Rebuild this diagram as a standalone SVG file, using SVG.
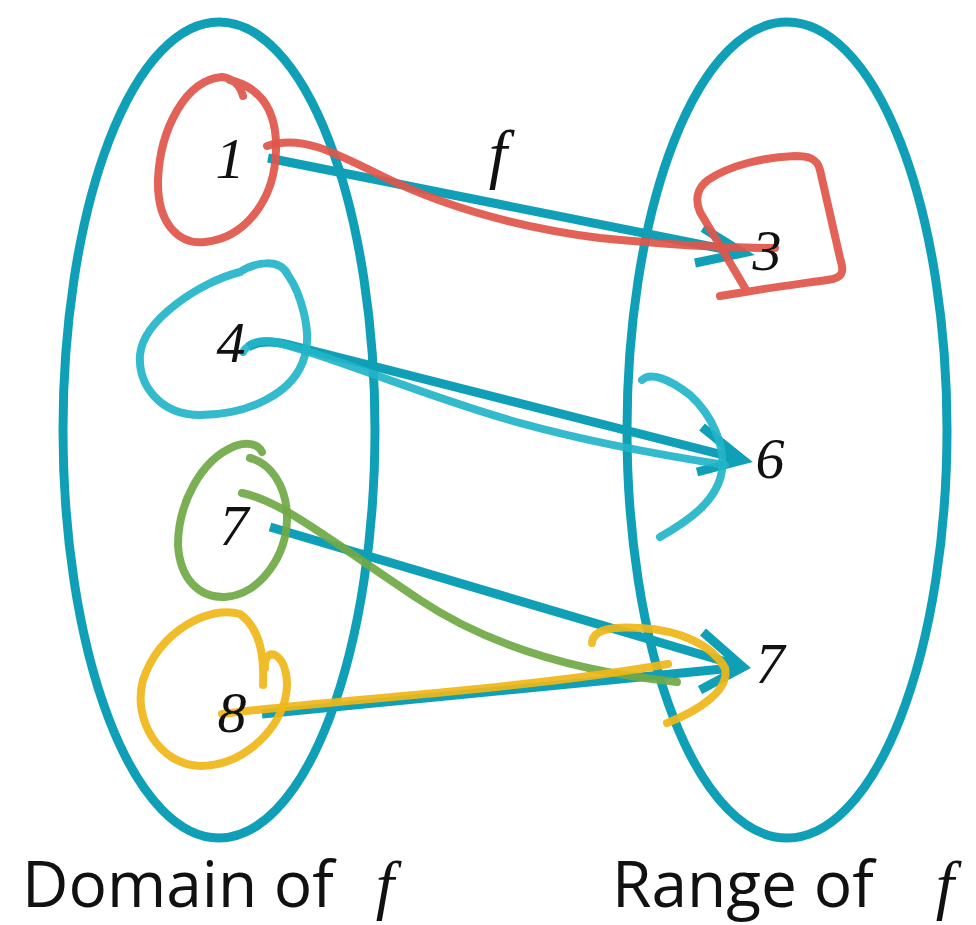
<svg xmlns="http://www.w3.org/2000/svg" width="976" height="925" viewBox="0 0 976 925">
<style>
.set{fill:none;stroke:#0f9fb6;stroke-width:9}
.arr{fill:none;stroke:#0f9fb6;stroke-width:9;stroke-linecap:butt;stroke-linejoin:miter}
.ink{fill:none;stroke-width:8;stroke-linecap:round;stroke-linejoin:round;opacity:0.92}
.red{stroke:#e0554a}
.cyan{stroke:#22b4c8}
.green{stroke:#70a845}
.yellow{stroke:#f0b617}
.num{font-family:"Liberation Serif",serif;font-style:italic;font-size:58px;fill:#111;text-anchor:middle}
.lbl{font-family:"Open Sans","DejaVu Sans",sans-serif;font-size:64px;fill:#111}
.fi{font-family:"Liberation Serif",serif;font-style:italic;font-size:66px;fill:#111;text-anchor:middle}
</style>
<rect width="976" height="925" fill="#fff"/>
<g id="domain">
<ellipse class="set" cx="219" cy="430" rx="156" ry="408"/>
</g>
<g id="range">
<ellipse class="set" cx="787" cy="430" rx="160" ry="408"/>
</g>
<g id="connectors">
<path class="arr" d="M268,158 L743,253"/>
<path class="arr" d="M703,228 L743,253 L695,263"/>
<path class="arr" d="M248,347 Q262,338 290,345 L743,460"/>
<path class="arr" d="M702,427 L743,460 L697,472"/>
<path class="arr" d="M270,527 L743,667"/>
<path class="arr" d="M703,632 L743,667 L700,690"/>
<path class="arr" d="M262,714 L743,667"/>
</g>
<g id="annotations">
<path class="ink red" d="M243,96 C240,85 232,78 222,77 C185,80 160,130 158,180 C157,225 180,245 205,242 C245,238 275,200 276,150 C277,112 262,88 230,80"/>
<path class="ink red" d="M267,146 C300,135 330,150 380,175 C430,200 500,225 600,238 C680,246 740,248 775,248"/>
<path class="ink red" d="M720,296 L745,292 C780,286 815,282 833,279 C845,276 843,268 840,258 L820,170 C817,158 808,156 795,156 C765,157 730,165 708,180 C697,188 695,200 700,212 L745,288"/>
<path class="ink cyan" d="M240,272 C255,262 280,258 288,275 C300,292 312,330 305,355 C295,395 245,415 200,415 C160,415 138,385 140,355 C143,320 200,282 240,272"/>
<path class="ink cyan" d="M243,352 Q252,338 275,342 C330,355 420,395 520,423 C600,445 680,458 725,465"/>
<path class="ink cyan" d="M642,380 C650,372 668,378 690,395 C712,415 725,445 722,470 C718,500 690,520 660,537"/>
<path class="ink green" d="M262,452 C258,443 245,442 235,446 C200,460 178,505 178,545 C180,580 200,598 225,597 C260,595 288,555 287,515 C286,485 270,463 250,458"/>
<path class="ink green" d="M242,493 C280,500 330,540 420,600 C480,640 560,670 677,682"/>
<path class="ink yellow" d="M263,685 C264,660 262,630 240,614 C210,605 160,630 143,680 C132,720 160,765 200,766 C240,766 275,735 285,700 C290,680 285,660 275,655 C268,652 264,660 265,668"/>
<path class="ink yellow" d="M222,714 C330,700 520,690 668,664"/>
<path class="ink yellow" d="M592,643 C593,630 610,626 640,628 C680,630 712,645 725,668 C730,690 700,710 667,723"/>
</g>
<g id="labels">
<text class="num" x="230" y="178">1</text>
<text class="num" x="767" y="270">3</text>
<text class="num" x="231" y="362">4</text>
<text class="num" x="770" y="478">6</text>
<text class="num" x="234" y="545">7</text>
<text class="num" x="232" y="732">8</text>
<text class="num" x="770" y="683">7</text>
<text class="fi" x="498" y="176">f</text>
<text class="lbl" x="22" y="907">Domain of</text>
<text class="fi" x="385" y="907">f</text>
<text class="lbl" x="612" y="907">Range of</text>
<text class="fi" x="945" y="907">f</text>
</g>
</svg>
